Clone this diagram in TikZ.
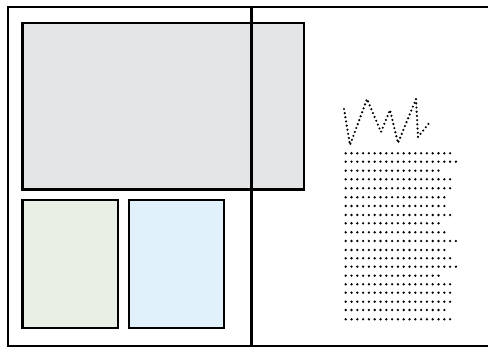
\documentclass[tikz,border=0pt]{standalone}
\begin{document}
\begin{tikzpicture}[x=1pt,y=-1pt,
  frame/.style={line width=2.4pt,black},
  panel/.style={line width=2.7pt,draw=black},
  dotline/.style={line width=2.6pt,line cap=round,dash pattern=on 0pt off 5.8pt},
  scrib/.style={line width=2.4pt,line cap=round,dash pattern=on 0pt off 4.2pt}]
\useasboundingbox[fill=white] (0,0) rectangle (488,347);
% outer frame
\draw[frame] (488,7) -- (8,7) -- (8,346) -- (488,346);
% panels
\draw[panel,fill={rgb,255:red,228;green,229;blue,231}] (22.5,23) rectangle (304,189.5);
\draw[panel,fill={rgb,255:red,232;green,240;blue,229}] (22.5,200) rectangle (118,328);
\draw[panel,fill={rgb,255:red,224;green,241;blue,251}] (129,200) rectangle (224,328);
% divider
\draw[line width=3pt] (251,7) -- (251,347);
% scribble
\draw[scrib] (344,109) -- (350,145) -- (367,99) -- (381,132) -- (390,110) -- (398,143) -- (416,99) -- (418,137) -- (430,122);
% text lines
\foreach \y/\e in {153.3/450,161.7/456.7,170.7/438.3,179.3/452.7,188.3/454,197.3/448.3,206/444,215/454,223.3/442.7,232.3/448.3,241/460,250/443.3,258.3/450,266.7/456,275.7/440,284.3/454,292.7/454,301.7/449.3,310/445,319.3/454}
  \draw[dotline] (345.7,\y) -- (\e+1,\y);
\end{tikzpicture}
\end{document}
